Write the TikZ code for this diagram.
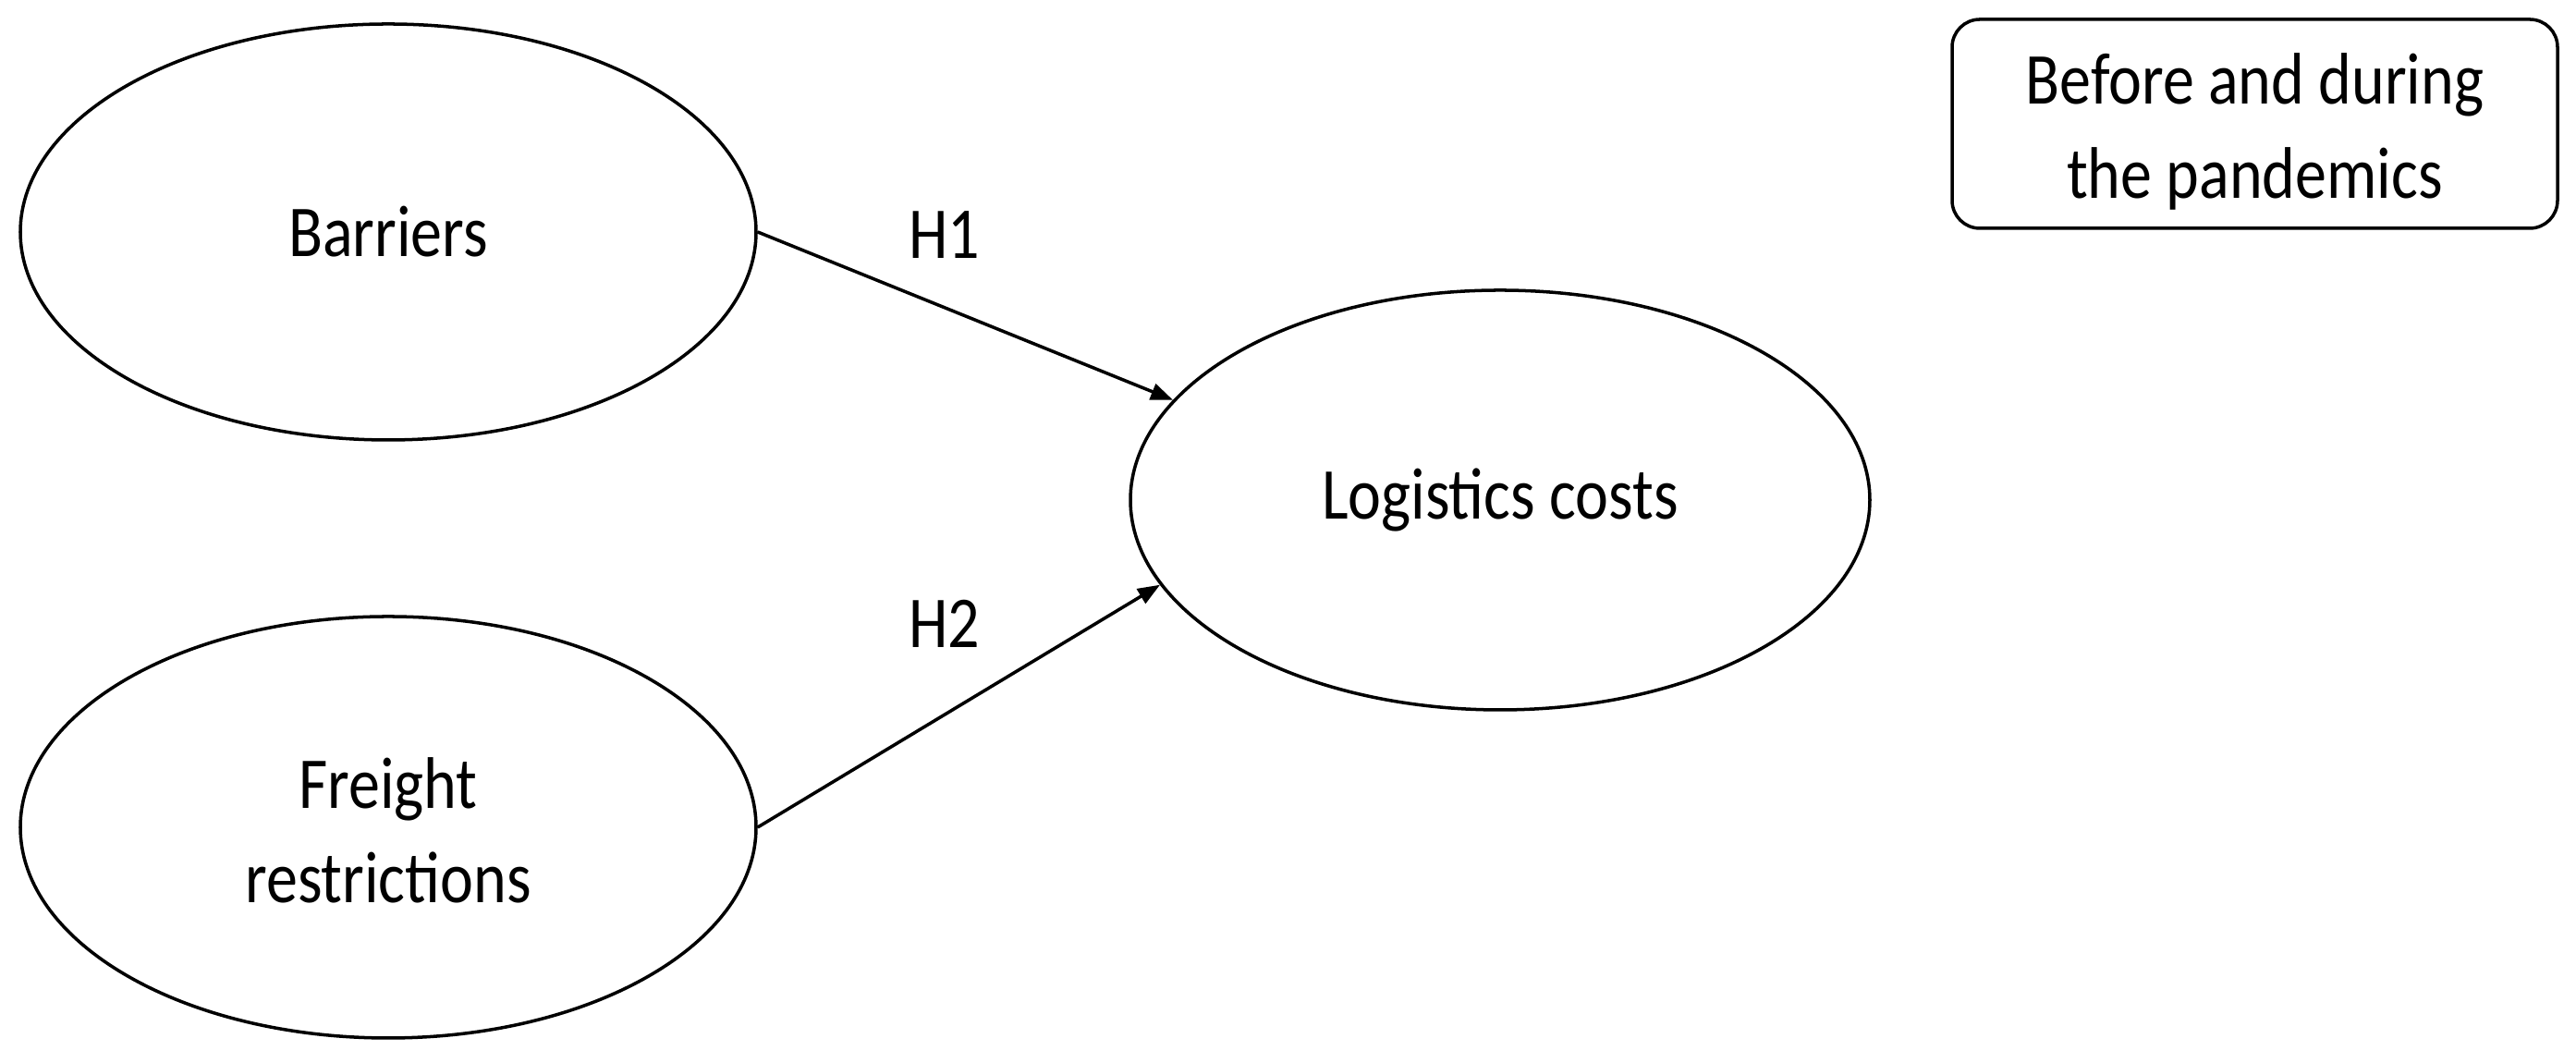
\documentclass[tikz,border=0pt]{standalone}
\usepackage{fontspec}
\setmainfont{Carlito}[FakeStretch=0.86]
\usetikzlibrary{shapes.geometric,arrows.meta}
\begin{document}
\begin{tikzpicture}[
  ell/.style={draw, line width=1pt, ellipse, inner sep=0pt},
  lbl/.style={font=\fontsize{22.5}{29}\selectfont, align=center},
  conn/.style={line width=1pt, -{Triangle[length=0.24cm,width=0.18cm]}},
  note/.style={draw, line width=1pt, rounded corners=0.3cm, minimum width=6.55cm, minimum height=2.26cm, inner sep=0pt}
]
\useasboundingbox (0,0) rectangle (27.87,11.5);
\node[ell, minimum width=7.96cm, minimum height=4.5cm] (B) at (4.20,8.99) {};
\node[lbl] at (B.center) {Barriers};
\node[ell, minimum width=7.96cm, minimum height=4.56cm] (F) at (4.20,2.55) {};
\node[lbl] at ([yshift=-0.03cm]F.center) {Freight\\restrictions};
\node[ell, minimum width=8.0cm, minimum height=4.54cm] (L) at (16.23,6.09) {};
\node[lbl] at (L.center) {Logistics costs};
\node[note] (N) at (24.395,10.16) {};
\node[lbl] at ([yshift=-0.08cm]N.center) {Before and during\\the pandemics};
\draw[conn] (B.east) -- (L.163.5);
\draw[conn] (F.east) -- (L.194);
\node[lbl] (H1) at (10.22,8.96) {H1};
\node[lbl] (H2) at (10.22,4.75) {H2};
\end{tikzpicture}
\end{document}
